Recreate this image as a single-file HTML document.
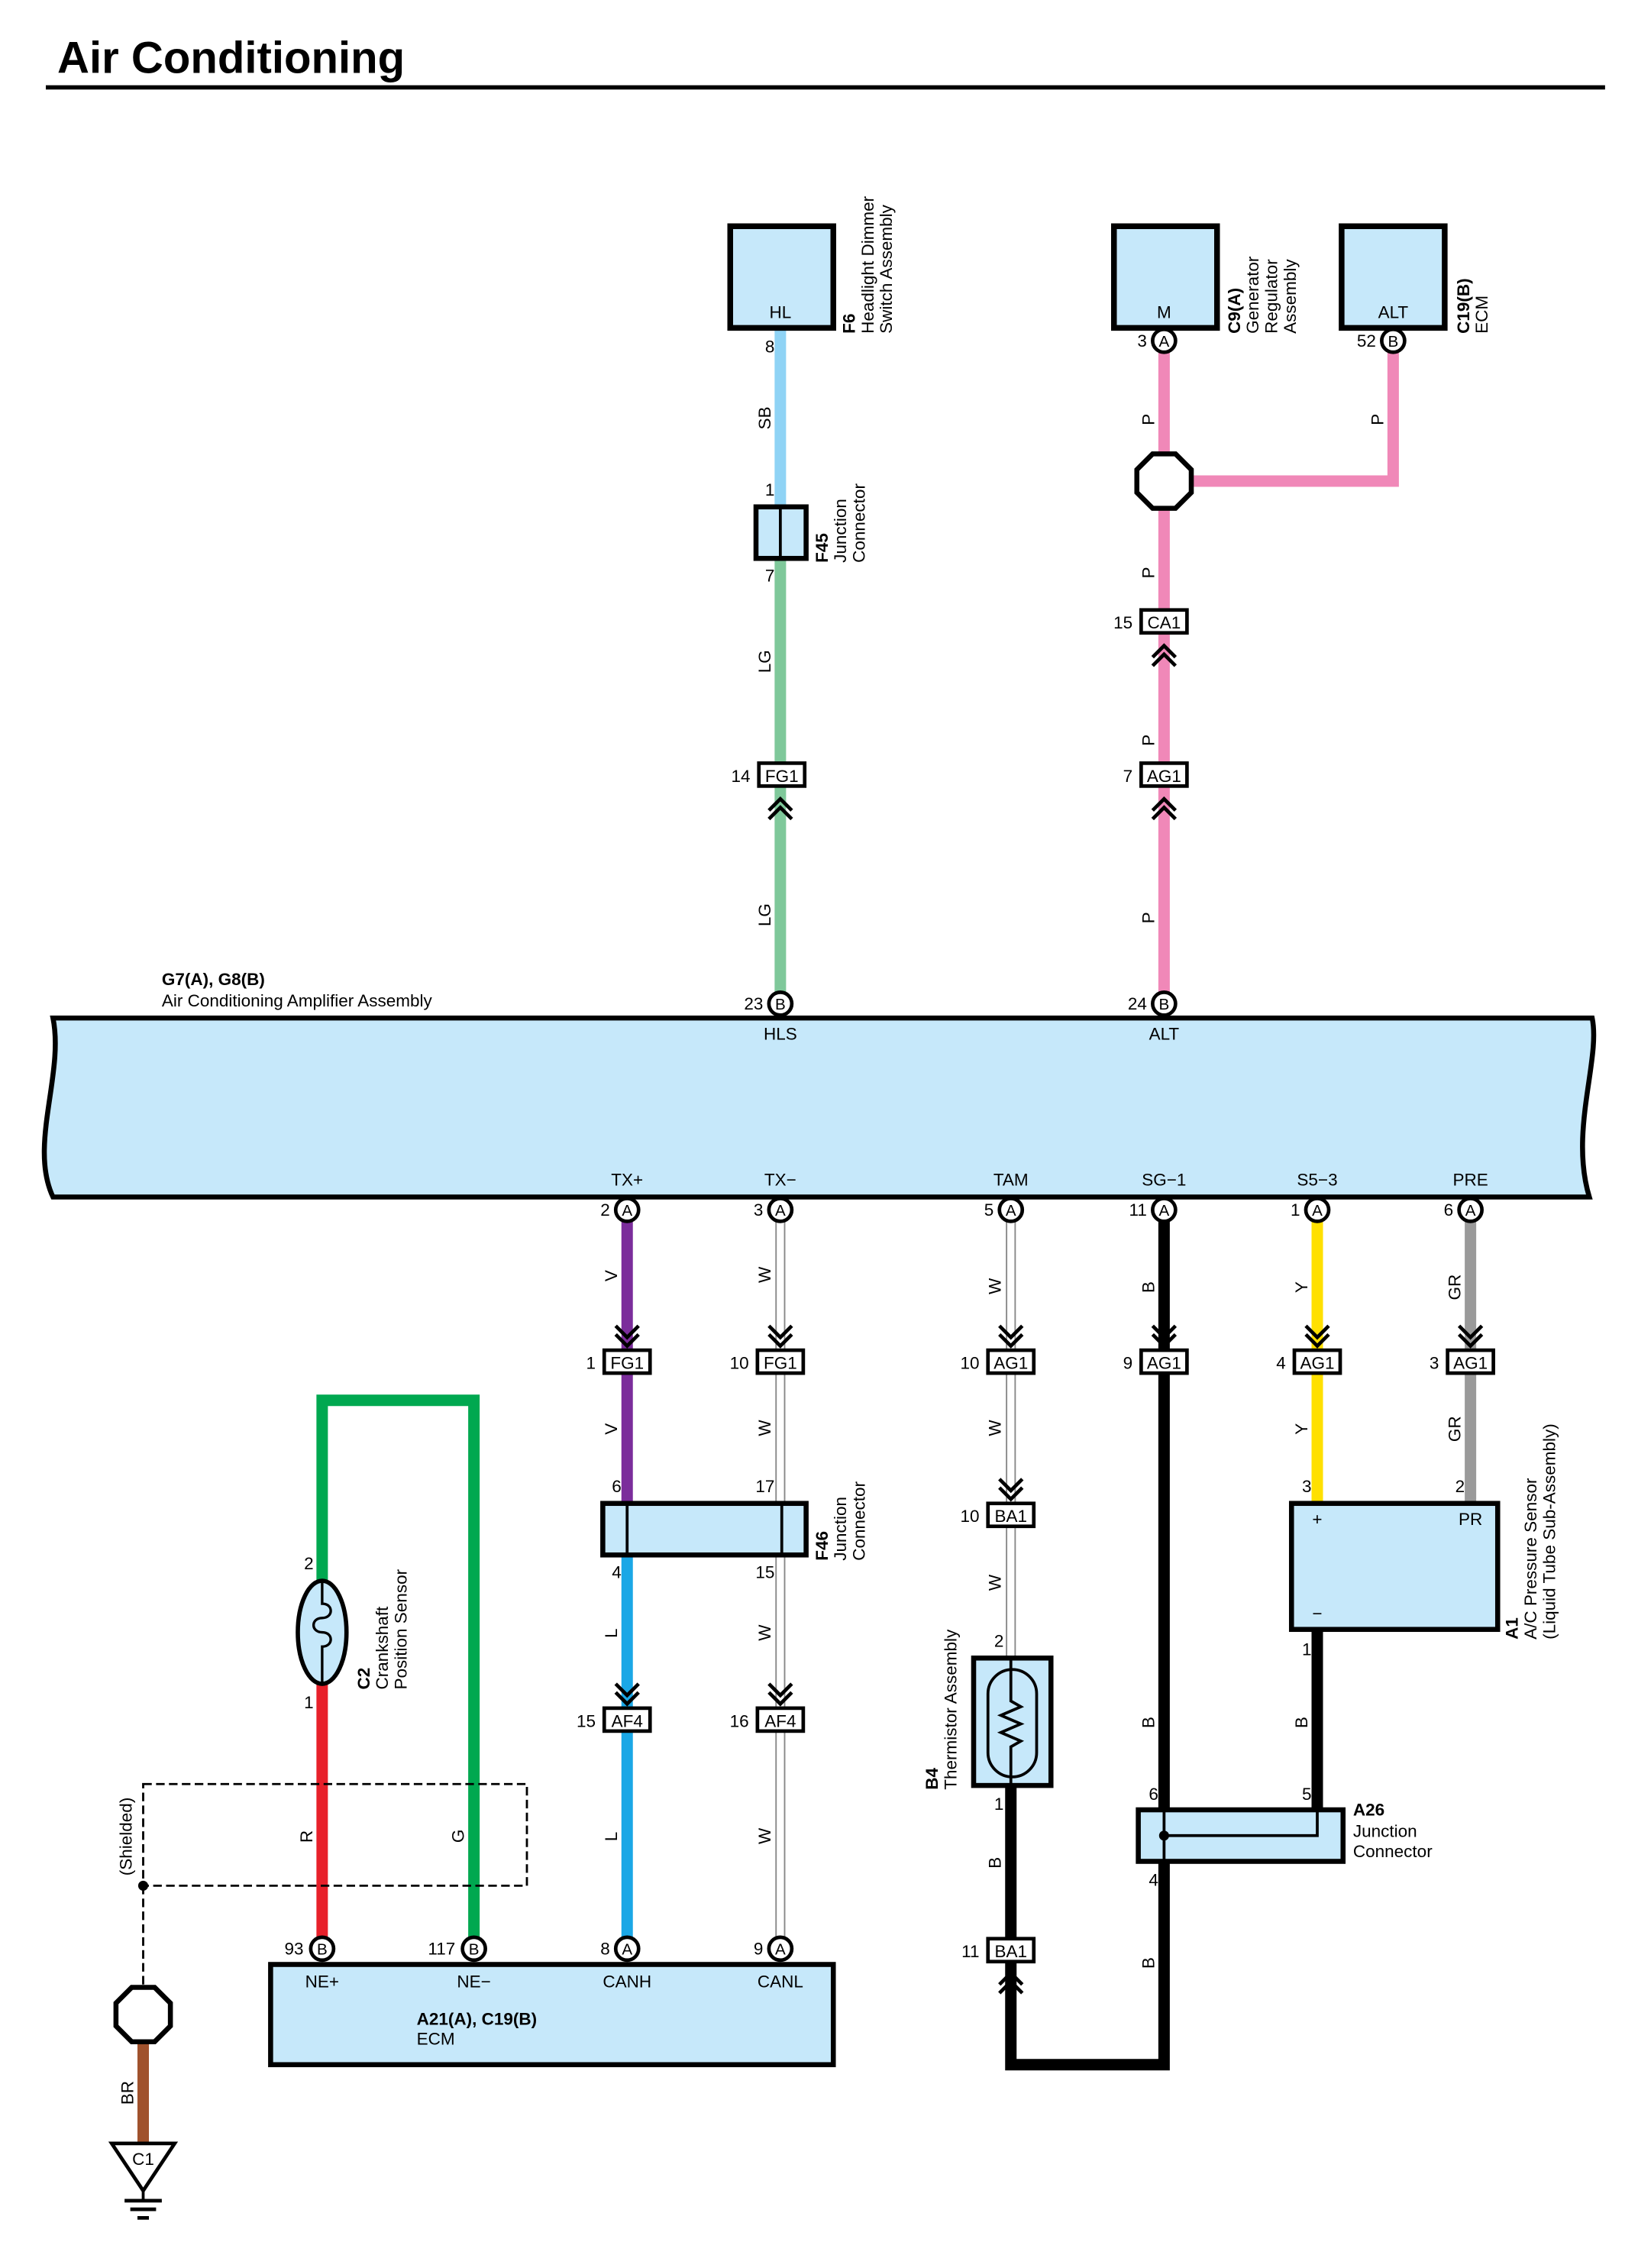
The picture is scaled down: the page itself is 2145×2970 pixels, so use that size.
<!DOCTYPE html>
<html><head><meta charset="utf-8"><style>
html,body{margin:0;padding:0;background:#fff}
svg{display:block}
text{font-family:"Liberation Sans",sans-serif;font-size:12px;fill:#000}
.c{text-anchor:middle}
.r{text-anchor:end}
.b{font-weight:bold}
</style></head><body>
<svg width="2145" height="2970" viewBox="0 0 1144 1584" xmlns="http://www.w3.org/2000/svg">
<defs>
<g id="chd" fill="none" stroke="#000" stroke-width="2.5"><polyline points="-8,-12 0,-4 8,-12"/><polyline points="-8,-6 0,2 8,-6"/></g>
<g id="chu" fill="none" stroke="#000" stroke-width="2.5"><polyline points="-8,12 0,4 8,12"/><polyline points="-8,6 0,-2 8,6"/></g>
</defs>
<rect width="1144" height="1584" fill="#fff"/>
<text x="40" y="51" style="font-size:31px;font-weight:bold">Air Conditioning</text>
<line x1="32" y1="61" x2="1121" y2="61" stroke="#000" stroke-width="3"/>

<!-- top wires -->
<line x1="545" y1="229" x2="545" y2="354" stroke="#8fd3f5" stroke-width="8"/>
<line x1="545" y1="390" x2="545" y2="697" stroke="#7fc89a" stroke-width="8"/>
<g stroke="#f088b8" stroke-width="8" fill="none">
<line x1="813" y1="246" x2="813" y2="697"/>
<polyline points="813,336 973,336 973,246"/>
</g>
<!-- HL -->
<rect x="510" y="158" width="72" height="71" fill="#c6e8fa" stroke="#000" stroke-width="4"/>
<text x="545" y="222" class="c">HL</text>
<text x="541" y="246" class="r">8</text>
<g transform="translate(597,233) rotate(-90)"><text x="0" y="0" class="b">F6</text><text x="0" y="13">Headlight Dimmer</text><text x="0" y="26">Switch Assembly</text></g>
<g transform="translate(538,300) rotate(-90)"><text x="0" y="0">SB</text></g>
<text x="541" y="346" class="r">1</text>
<rect x="528" y="354" width="35" height="36" fill="#c6e8fa" stroke="#000" stroke-width="3.5"/>
<line x1="545" y1="354" x2="545" y2="390" stroke="#000" stroke-width="2"/>
<g transform="translate(578,393) rotate(-90)"><text x="0" y="0" class="b">F45</text><text x="0" y="13">Junction</text><text x="0" y="26">Connector</text></g>
<text x="541" y="406" class="r">7</text>
<g transform="translate(538,470) rotate(-90)"><text x="0" y="0">LG</text></g>
<g transform="translate(538,647) rotate(-90)"><text x="0" y="0">LG</text></g>
<rect x="530" y="533" width="32" height="16" fill="#fff" stroke="#000" stroke-width="2.5"/><text x="546" y="546" class="c">FG1</text>
<text x="524" y="546" class="r">14</text>
<use href="#chu" x="545" y="560"/>

<!-- M and ALT -->
<rect x="778" y="158" width="72" height="71" fill="#c6e8fa" stroke="#000" stroke-width="4"/>
<text x="813" y="222" class="c">M</text>
<rect x="937" y="158" width="72" height="71" fill="#c6e8fa" stroke="#000" stroke-width="4"/>
<text x="973" y="222" class="c">ALT</text>
<circle cx="813" cy="238" r="8" fill="#fff" stroke="#000" stroke-width="2.5"/><text x="813" y="242" class="c" style="font-size:11px">A</text>
<text x="801" y="242" class="r">3</text>
<circle cx="973" cy="238" r="8" fill="#fff" stroke="#000" stroke-width="2.5"/><text x="973" y="242" class="c" style="font-size:11px">B</text>
<text x="961" y="242" class="r">52</text>
<g transform="translate(866,233) rotate(-90)"><text x="0" y="0" class="b">C9(A)</text><text x="0" y="13">Generator</text><text x="0" y="26">Regulator</text><text x="0" y="39">Assembly</text></g>
<g transform="translate(1026,233) rotate(-90)"><text x="0" y="0" class="b">C19(B)</text><text x="0" y="13">ECM</text></g>
<polygon points="805,317 821,317 832,328 832,344 821,355 805,355 794,344 794,328" fill="#fff" stroke="#000" stroke-width="3.5"/>
<g transform="translate(806,297) rotate(-90)"><text x="0" y="0">P</text></g>
<g transform="translate(966,297) rotate(-90)"><text x="0" y="0">P</text></g>
<g transform="translate(806,404) rotate(-90)"><text x="0" y="0">P</text></g>
<g transform="translate(806,521) rotate(-90)"><text x="0" y="0">P</text></g>
<g transform="translate(806,645) rotate(-90)"><text x="0" y="0">P</text></g>
<rect x="797" y="426" width="32" height="16" fill="#fff" stroke="#000" stroke-width="2.5"/><text x="813" y="439" class="c">CA1</text>
<text x="791" y="439" class="r">15</text>
<use href="#chu" x="813" y="453"/>
<rect x="797" y="533" width="32" height="16" fill="#fff" stroke="#000" stroke-width="2.5"/><text x="813" y="546" class="c">AG1</text>
<text x="791" y="546" class="r">7</text>
<use href="#chu" x="813" y="560"/>

<!-- band -->
<text x="113" y="688" class="b">G7(A), G8(B)</text>
<text x="113" y="703">Air Conditioning Amplifier Assembly</text>
<path d="M37,711 L1112,711 C1118,740 1096,790 1110,836 L37,836 C20,800 45,750 37,711 Z" fill="#c6e8fa" stroke="#000" stroke-width="3.5"/>
<circle cx="545" cy="701" r="8" fill="#fff" stroke="#000" stroke-width="2.5"/><text x="545" y="705" class="c" style="font-size:11px">B</text>
<text x="533" y="705" class="r">23</text>
<circle cx="813" cy="701" r="8" fill="#fff" stroke="#000" stroke-width="2.5"/><text x="813" y="705" class="c" style="font-size:11px">B</text>
<text x="801" y="705" class="r">24</text>
<text x="545" y="726" class="c">HLS</text>
<text x="813" y="726" class="c">ALT</text>
<text x="438" y="828" class="c">TX+</text>
<text x="545" y="828" class="c">TX−</text>
<text x="706" y="828" class="c">TAM</text>
<text x="813" y="828" class="c">SG−1</text>
<text x="920" y="828" class="c">S5−3</text>
<text x="1027" y="828" class="c">PRE</text>

<!-- bottom wires -->
<line x1="438" y1="853" x2="438" y2="1050" stroke="#7b2d9b" stroke-width="8"/>
<line x1="438" y1="1086" x2="438" y2="1354" stroke="#1aa7e6" stroke-width="8"/>
<g stroke="#888" stroke-width="1"><line x1="542" y1="853" x2="542" y2="1354"/><line x1="548" y1="853" x2="548" y2="1354"/><line x1="703" y1="853" x2="703" y2="1158"/><line x1="709" y1="853" x2="709" y2="1158"/></g>
<g stroke="#000" stroke-width="8" fill="none">
<polyline points="706,1247 706,1442 813,1442 813,853"/>
<line x1="920" y1="1138" x2="920" y2="1264"/>
</g>
<line x1="920" y1="853" x2="920" y2="1050" stroke="#ffe000" stroke-width="8"/>
<line x1="1027" y1="853" x2="1027" y2="1050" stroke="#9a9a9a" stroke-width="8"/>

<g>
<circle cx="438" cy="845" r="8" fill="#fff" stroke="#000" stroke-width="2.5"/><text x="438" y="849" class="c" style="font-size:11px">A</text><text x="426" y="849" class="r">2</text>
<circle cx="545" cy="845" r="8" fill="#fff" stroke="#000" stroke-width="2.5"/><text x="545" y="849" class="c" style="font-size:11px">A</text><text x="533" y="849" class="r">3</text>
<circle cx="706" cy="845" r="8" fill="#fff" stroke="#000" stroke-width="2.5"/><text x="706" y="849" class="c" style="font-size:11px">A</text><text x="694" y="849" class="r">5</text>
<circle cx="813" cy="845" r="8" fill="#fff" stroke="#000" stroke-width="2.5"/><text x="813" y="849" class="c" style="font-size:11px">A</text><text x="801" y="849" class="r">11</text>
<circle cx="920" cy="845" r="8" fill="#fff" stroke="#000" stroke-width="2.5"/><text x="920" y="849" class="c" style="font-size:11px">A</text><text x="908" y="849" class="r">1</text>
<circle cx="1027" cy="845" r="8" fill="#fff" stroke="#000" stroke-width="2.5"/><text x="1027" y="849" class="c" style="font-size:11px">A</text><text x="1015" y="849" class="r">6</text>
</g>
<use href="#chd" x="438" y="938"/><use href="#chd" x="545" y="938"/><use href="#chd" x="706" y="938"/><use href="#chd" x="813" y="938"/><use href="#chd" x="920" y="938"/><use href="#chd" x="1027" y="938"/>
<rect x="422" y="943" width="32" height="16" fill="#fff" stroke="#000" stroke-width="2.5"/><text x="438" y="956" class="c">FG1</text><text x="416" y="956" class="r">1</text>
<rect x="529" y="943" width="32" height="16" fill="#fff" stroke="#000" stroke-width="2.5"/><text x="545" y="956" class="c">FG1</text><text x="523" y="956" class="r">10</text>
<rect x="690" y="943" width="32" height="16" fill="#fff" stroke="#000" stroke-width="2.5"/><text x="706" y="956" class="c">AG1</text><text x="684" y="956" class="r">10</text>
<rect x="797" y="943" width="32" height="16" fill="#fff" stroke="#000" stroke-width="2.5"/><text x="813" y="956" class="c">AG1</text><text x="791" y="956" class="r">9</text>
<rect x="904" y="943" width="32" height="16" fill="#fff" stroke="#000" stroke-width="2.5"/><text x="920" y="956" class="c">AG1</text><text x="898" y="956" class="r">4</text>
<rect x="1011" y="943" width="32" height="16" fill="#fff" stroke="#000" stroke-width="2.5"/><text x="1027" y="956" class="c">AG1</text><text x="1005" y="956" class="r">3</text>
<g>
<g transform="translate(431,895) rotate(-90)"><text>V</text></g>
<g transform="translate(431,1002) rotate(-90)"><text>V</text></g>
<g transform="translate(538,896) rotate(-90)"><text>W</text></g>
<g transform="translate(538,1003) rotate(-90)"><text>W</text></g>
<g transform="translate(538,1146) rotate(-90)"><text>W</text></g>
<g transform="translate(538,1288) rotate(-90)"><text>W</text></g>
<g transform="translate(699,904) rotate(-90)"><text>W</text></g>
<g transform="translate(699,1003) rotate(-90)"><text>W</text></g>
<g transform="translate(699,1111) rotate(-90)"><text>W</text></g>
<g transform="translate(431,1144) rotate(-90)"><text>L</text></g>
<g transform="translate(431,1286) rotate(-90)"><text>L</text></g>
<g transform="translate(806,903) rotate(-90)"><text>B</text></g>
<g transform="translate(806,1207) rotate(-90)"><text>B</text></g>
<g transform="translate(806,1375) rotate(-90)"><text>B</text></g>
<g transform="translate(699,1305) rotate(-90)"><text>B</text></g>
<g transform="translate(913,1207) rotate(-90)"><text>B</text></g>
<g transform="translate(913,903) rotate(-90)"><text>Y</text></g>
<g transform="translate(913,1002) rotate(-90)"><text>Y</text></g>
<g transform="translate(1020,908) rotate(-90)"><text>GR</text></g>
<g transform="translate(1020,1007) rotate(-90)"><text>GR</text></g>
</g>
<!-- F46 -->
<text x="434" y="1042" class="r">6</text><text x="541" y="1042" class="r">17</text>
<rect x="421" y="1050" width="142" height="36" fill="#c6e8fa" stroke="#000" stroke-width="3.5"/>
<line x1="438" y1="1050" x2="438" y2="1086" stroke="#000" stroke-width="2"/>
<line x1="546" y1="1050" x2="546" y2="1086" stroke="#000" stroke-width="2"/>
<g transform="translate(578,1090) rotate(-90)"><text x="0" y="0" class="b">F46</text><text x="0" y="13">Junction</text><text x="0" y="26">Connector</text></g>
<text x="434" y="1102" class="r">4</text><text x="541" y="1102" class="r">15</text>
<use href="#chd" x="438" y="1188"/><use href="#chd" x="545" y="1188"/>
<rect x="422" y="1193" width="32" height="16" fill="#fff" stroke="#000" stroke-width="2.5"/><text x="438" y="1206" class="c">AF4</text><text x="416" y="1206" class="r">15</text>
<rect x="529" y="1193" width="32" height="16" fill="#fff" stroke="#000" stroke-width="2.5"/><text x="545" y="1206" class="c">AF4</text><text x="523" y="1206" class="r">16</text>
<!-- thermistor -->
<use href="#chd" x="706" y="1045"/>
<rect x="690" y="1050" width="32" height="16" fill="#fff" stroke="#000" stroke-width="2.5"/><text x="706" y="1063" class="c">BA1</text><text x="684" y="1063" class="r">10</text>
<text x="701" y="1150" class="r">2</text>
<rect x="680" y="1158" width="54" height="89" fill="#c6e8fa" stroke="#000" stroke-width="3.5"/>
<rect x="690" y="1166" width="34" height="75" rx="17" fill="none" stroke="#000" stroke-width="2"/>
<polyline points="706,1158 706,1188 713,1192 699,1198 713,1204 699,1210 713,1216 706,1220 706,1247" fill="none" stroke="#000" stroke-width="2"/>
<g transform="translate(655,1250) rotate(-90)"><text x="0" y="0" class="b">B4</text><text x="0" y="13">Thermistor Assembly</text></g>
<text x="701" y="1264" class="r">1</text>
<rect x="690" y="1354" width="32" height="16" fill="#fff" stroke="#000" stroke-width="2.5"/><text x="706" y="1367" class="c">BA1</text><text x="684" y="1367" class="r">11</text>
<use href="#chu" x="706" y="1380"/>
<!-- A26 -->
<text x="809" y="1257" class="r">6</text><text x="916" y="1257" class="r">5</text><text x="809" y="1317" class="r">4</text>
<rect x="795" y="1264" width="143" height="36" fill="#c6e8fa" stroke="#000" stroke-width="3.5"/>
<line x1="813" y1="1264" x2="813" y2="1300" stroke="#000" stroke-width="2"/>
<polyline points="813,1282 920,1282 920,1264" fill="none" stroke="#000" stroke-width="2"/>
<circle cx="813" cy="1282" r="3.5" fill="#000"/>
<text x="945" y="1268" class="b">A26</text><text x="945" y="1283">Junction</text><text x="945" y="1297">Connector</text>
<!-- A1 -->
<text x="916" y="1042" class="r">3</text><text x="1023" y="1042" class="r">2</text>
<rect x="902" y="1050" width="144" height="88" fill="#c6e8fa" stroke="#000" stroke-width="3.5"/>
<text x="920" y="1065" class="c">+</text><text x="1027" y="1065" class="c">PR</text><text x="920" y="1131" class="c">−</text>
<text x="916" y="1156" class="r">1</text>
<g transform="translate(1060,1145) rotate(-90)"><text x="0" y="0" class="b">A1</text><text x="0" y="13">A/C Pressure Sensor</text><text x="0" y="26">(Liquid Tube Sub-Assembly)</text></g>

<!-- left -->
<polyline points="225,1104 225,978 331,978 331,1354" fill="none" stroke="#00a850" stroke-width="8"/>
<line x1="225" y1="1176" x2="225" y2="1354" stroke="#e8202a" stroke-width="8"/>
<text x="219" y="1096" class="r">2</text><text x="219" y="1193" class="r">1</text>
<ellipse cx="225" cy="1140" rx="17" ry="36" fill="#c6e8fa" stroke="#000" stroke-width="3"/>
<path d="M225,1104 L225,1120 C233,1120 233,1130 225,1130 C217,1130 217,1140 225,1140 C233,1140 233,1150 225,1150 L225,1176" fill="none" stroke="#000" stroke-width="1.8"/>
<g transform="translate(258,1180) rotate(-90)"><text x="0" y="0" class="b">C2</text><text x="0" y="13">Crankshaft</text><text x="0" y="26">Position Sensor</text></g>
<rect x="100" y="1246" width="268" height="71" fill="none" stroke="#000" stroke-width="1.5" stroke-dasharray="6,3"/>
<line x1="100" y1="1317" x2="100" y2="1390" stroke="#000" stroke-width="1.5" stroke-dasharray="6,3"/>
<circle cx="100" cy="1317" r="3.5" fill="#000"/>
<g transform="translate(92,1310) rotate(-90)"><text>(Shielded)</text></g>
<g transform="translate(218,1287) rotate(-90)"><text>R</text></g>
<g transform="translate(324,1287) rotate(-90)"><text>G</text></g>
<line x1="100" y1="1424" x2="100" y2="1497" stroke="#a0522d" stroke-width="8"/>
<polygon points="92,1388 108,1388 119,1399 119,1415 108,1426 92,1426 81,1415 81,1399" fill="#fff" stroke="#000" stroke-width="3.5"/>
<g transform="translate(93,1470) rotate(-90)"><text>BR</text></g>
<polygon points="78,1497 122,1497 100,1530" fill="#fff" stroke="#000" stroke-width="2.5"/>
<text x="100" y="1512" class="c">C1</text>
<line x1="100" y1="1530" x2="100" y2="1537" stroke="#000" stroke-width="2"/>
<line x1="87" y1="1537" x2="113" y2="1537" stroke="#000" stroke-width="2.5"/>
<line x1="91" y1="1543" x2="109" y2="1543" stroke="#000" stroke-width="2.5"/>
<line x1="96" y1="1549" x2="104" y2="1549" stroke="#000" stroke-width="2.5"/>
<!-- ECM -->
<rect x="189" y="1372" width="393" height="70" fill="#c6e8fa" stroke="#000" stroke-width="3.5"/>
<circle cx="225" cy="1361" r="8" fill="#fff" stroke="#000" stroke-width="2.5"/><text x="225" y="1365" class="c" style="font-size:11px">B</text><text x="212" y="1365" class="r">93</text>
<circle cx="331" cy="1361" r="8" fill="#fff" stroke="#000" stroke-width="2.5"/><text x="331" y="1365" class="c" style="font-size:11px">B</text><text x="318" y="1365" class="r">117</text>
<circle cx="438" cy="1361" r="8" fill="#fff" stroke="#000" stroke-width="2.5"/><text x="438" y="1365" class="c" style="font-size:11px">A</text><text x="426" y="1365" class="r">8</text>
<circle cx="545" cy="1361" r="8" fill="#fff" stroke="#000" stroke-width="2.5"/><text x="545" y="1365" class="c" style="font-size:11px">A</text><text x="533" y="1365" class="r">9</text>
<text x="225" y="1388" class="c">NE+</text><text x="331" y="1388" class="c">NE−</text><text x="438" y="1388" class="c">CANH</text><text x="545" y="1388" class="c">CANL</text>
<text x="291" y="1414" class="b">A21(A), C19(B)</text><text x="291" y="1428">ECM</text>
</svg>
</body></html>
